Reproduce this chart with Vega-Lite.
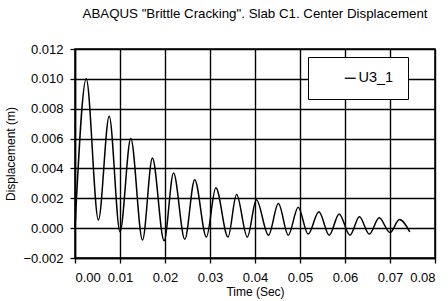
{
  "$schema": "https://vega.github.io/schema/vega-lite/v6.json",
  "autosize": "none",
  "width": 360,
  "height": 209,
  "padding": {"left": 75, "top": 49, "right": 13, "bottom": 43},
  "background": "white",
  "title": {
    "text": "ABAQUS \"Brittle Cracking\". Slab C1. Center Displacement",
    "font": "Liberation Sans",
    "fontSize": 13.3,
    "fontWeight": "normal",
    "color": "black",
    "anchor": "middle",
    "offset": 23
  },
  "config": {
    "view": {"stroke": "black", "strokeWidth": 1.5},
    "axis": {
      "labelFont": "Liberation Sans",
      "titleFont": "Liberation Sans",
      "labelFontSize": 13,
      "titleFontSize": 12,
      "titleFontWeight": "normal",
      "labelColor": "black",
      "titleColor": "black",
      "gridColor": "black",
      "gridOpacity": 1,
      "gridWidth": 1.4,
      "domainColor": "black",
      "domainWidth": 1.5,
      "tickColor": "black",
      "tickWidth": 1.3,
      "tickSize": 5
    }
  },
  "data": {
    "values": [
      {"t": 0.0000, "v": 0.0000, "s": "U3_1"},
      {"t": 0.0025, "v": 0.0100, "s": "U3_1"},
      {"t": 0.0052, "v": 0.00055, "s": "U3_1"},
      {"t": 0.0076, "v": 0.0075, "s": "U3_1"},
      {"t": 0.0100, "v": -0.00025, "s": "U3_1"},
      {"t": 0.0124, "v": 0.0060, "s": "U3_1"},
      {"t": 0.0150, "v": -0.0008, "s": "U3_1"},
      {"t": 0.0172, "v": 0.0047, "s": "U3_1"},
      {"t": 0.0198, "v": -0.00085, "s": "U3_1"},
      {"t": 0.0219, "v": 0.0037, "s": "U3_1"},
      {"t": 0.0244, "v": -0.00075, "s": "U3_1"},
      {"t": 0.0266, "v": 0.00325, "s": "U3_1"},
      {"t": 0.0292, "v": -0.0006, "s": "U3_1"},
      {"t": 0.0313, "v": 0.0027, "s": "U3_1"},
      {"t": 0.0340, "v": -0.0006, "s": "U3_1"},
      {"t": 0.0359, "v": 0.00226, "s": "U3_1"},
      {"t": 0.0383, "v": -0.0006, "s": "U3_1"},
      {"t": 0.0403, "v": 0.0019, "s": "U3_1"},
      {"t": 0.0430, "v": -0.00047, "s": "U3_1"},
      {"t": 0.0452, "v": 0.00165, "s": "U3_1"},
      {"t": 0.0474, "v": -0.00047, "s": "U3_1"},
      {"t": 0.0496, "v": 0.0014, "s": "U3_1"},
      {"t": 0.0518, "v": -0.0004, "s": "U3_1"},
      {"t": 0.0542, "v": 0.0011, "s": "U3_1"},
      {"t": 0.0565, "v": -0.00047, "s": "U3_1"},
      {"t": 0.0587, "v": 0.00095, "s": "U3_1"},
      {"t": 0.0611, "v": -0.00047, "s": "U3_1"},
      {"t": 0.0632, "v": 0.00076, "s": "U3_1"},
      {"t": 0.0654, "v": -0.0004, "s": "U3_1"},
      {"t": 0.0676, "v": 0.00069, "s": "U3_1"},
      {"t": 0.0700, "v": -0.0003, "s": "U3_1"},
      {"t": 0.0721, "v": 0.00058, "s": "U3_1"},
      {"t": 0.0744, "v": -0.00025, "s": "U3_1"}
    ]
  },
  "mark": {"type": "line", "interpolate": "monotone", "strokeWidth": 1.5},
  "encoding": {
    "x": {
      "field": "t",
      "type": "quantitative",
      "scale": {"domain": [0, 0.08], "nice": false, "zero": false},
      "axis": {
        "title": "Time (Sec)",
        "values": [0, 0.01, 0.02, 0.03, 0.04, 0.05, 0.06, 0.07, 0.08],
        "format": ".2f",
        "labelPadding": 8,
        "titlePadding": 2
      }
    },
    "y": {
      "field": "v",
      "type": "quantitative",
      "scale": {"domain": [-0.002, 0.012], "nice": false, "zero": false},
      "axis": {
        "title": "Displacement (m)",
        "values": [-0.002, 0, 0.002, 0.004, 0.006, 0.008, 0.010, 0.012],
        "format": ".3f",
        "labelPadding": 7,
        "titlePadding": 5
      }
    },
    "color": {
      "field": "s",
      "type": "nominal",
      "scale": {"domain": ["U3_1"], "range": ["black"]},
      "legend": {
        "title": null,
        "orient": "none",
        "legendX": 233,
        "legendY": 8,
        "symbolType": "stroke",
        "symbolSize": 120,
        "symbolStrokeWidth": 1.3,
        "symbolOffset": 21,
        "labelOffset": 1,
        "labelFont": "Liberation Sans",
        "labelFontSize": 14.5,
        "labelColor": "black",
        "padding": 14,
        "fillColor": "white",
        "strokeColor": "black"
      }
    }
  }
}
